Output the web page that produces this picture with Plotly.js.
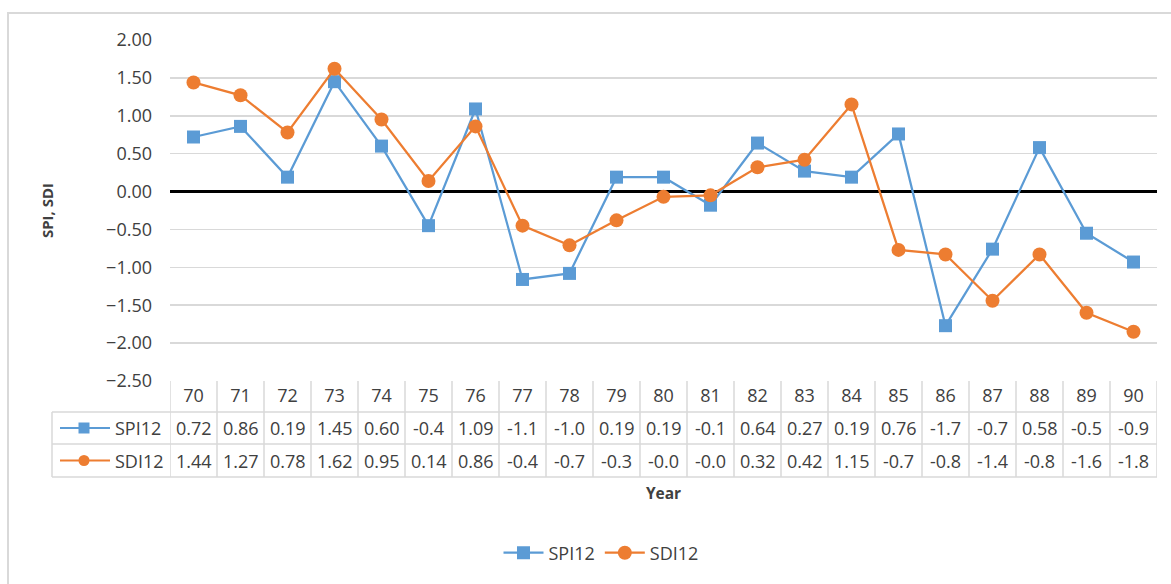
<!DOCTYPE html>
<html>
<head>
<meta charset="utf-8">
<script src="https://cdn.plot.ly/plotly-3.0.1.min.js"></script>
<style>html,body{margin:0;padding:0;background:#fff;}#chart{width:1171px;height:584px;}</style>
</head>
<body>
<div id="chart"></div>
<script>
// ---- data ----
const years = ['70','71','72','73','74','75','76','77','78','79','80','81','82','83','84','85','86','87','88','89','90'];
const spi12 = [0.72,0.86,0.19,1.45,0.60,-0.45,1.09,-1.16,-1.08,0.19,0.19,-0.18,0.64,0.27,0.19,0.76,-1.77,-0.76,0.58,-0.55,-0.93];
const sdi12 = [1.44,1.27,0.78,1.62,0.95,0.14,0.86,-0.45,-0.71,-0.38,-0.07,-0.05,0.32,0.42,1.15,-0.77,-0.83,-1.44,-0.83,-1.60,-1.85];
const seriesNames = ['SPI12','SDI12'];
const yTicks = [-2.5,-2,-1.5,-1,-0.5,0,0.5,1,1.5,2];

// ---- style ----
const W = 1171, H = 584;
const M = {l:170, r:14, t:40, b:203};
const PW = W - M.l - M.r, PH = H - M.t - M.b;
const px2x = px => (px - M.l) / PW;
const px2y = py => (H - M.b - py) / PH;
const BLUE = '#5B9BD5', ORANGE = '#ED7D31', TXT = '#404040', GRID = '#d9d9d9';
const FONT = 'Open Sans, Noto Sans, sans-serif';
const FS = 18;

const fmt = v => v.toFixed(2).slice(0,4);

const traces = [
  {x: years, y: spi12, name: seriesNames[0], type: 'scatter', mode: 'lines+markers',
   line: {color: BLUE, width: 2.25}, marker: {symbol: 'square', size: 13, color: BLUE}},
  {x: years, y: sdi12, name: seriesNames[1], type: 'scatter', mode: 'lines+markers',
   line: {color: ORANGE, width: 2.25}, marker: {symbol: 'circle', size: 14, color: ORANGE}}
];

const shapes = [];
const annotations = [];
const lineStyle = {color: GRID, width: 1.5};
const rowTop = 381, r1 = 412, r2 = 444, r3 = 477, tblLeft = 52;

// outer chart border
shapes.push({type:'rect', xref:'paper', yref:'paper', x0:px2x(8), x1:px2x(1200), y0:px2y(13), y1:px2y(620),
  line:{color:'#d9d9d9', width:2}, layer:'below'});

// table vertical lines
for (let i = 0; i <= years.length; i++) {
  shapes.push({type:'line', xref:'x', yref:'paper', x0:i-0.5, x1:i-0.5, y0:px2y(rowTop), y1:px2y(r3), line:lineStyle});
}
shapes.push({type:'line', xref:'paper', yref:'paper', x0:px2x(tblLeft), x1:px2x(tblLeft), y0:px2y(r1), y1:px2y(r3), line:lineStyle});
[r1, r2, r3].forEach(r => shapes.push({type:'line', xref:'paper', yref:'paper', x0:px2x(tblLeft), x1:1, y0:px2y(r), y1:px2y(r), line:lineStyle}));

// table legend keys + labels + values
const rows = [{vals: spi12, color: BLUE, sym: 'rect', cy: (r1+r2)/2, name: seriesNames[0]},
              {vals: sdi12, color: ORANGE, sym: 'circle', cy: (r2+r3)/2, name: seriesNames[1]}];
rows.forEach(r => {
  shapes.push({type:'line', xref:'paper', yref:'paper', x0:px2x(60), x1:px2x(110), y0:px2y(r.cy), y1:px2y(r.cy), line:{color:r.color, width:2}});
  shapes.push({type:r.sym, xref:'paper', yref:'paper', xsizemode:'pixel', ysizemode:'pixel',
    xanchor:px2x(84), yanchor:px2y(r.cy), x0:-5.5, x1:5.5, y0:-5.5, y1:5.5,
    fillcolor:r.color, line:{color:r.color, width:0}});
  annotations.push({xref:'paper', yref:'paper', x:px2x(113), y:px2y(r.cy), xanchor:'left', yanchor:'middle',
    text:r.name, showarrow:false, font:{family:FONT, size:FS, color:TXT}});
  // category axis: annotation x given as category index
  r.vals.forEach((v, i) => annotations.push({xref:'x', yref:'paper', x:years.indexOf(years[i]), y:px2y(r.cy),
    xanchor:'center', yanchor:'middle', text:fmt(v), showarrow:false, font:{family:FONT, size:FS, color:TXT}}));
});

const layout = {
  width: W, height: H,
  margin: M,
  paper_bgcolor: '#fff', plot_bgcolor: '#fff',
  font: {family: FONT, size: FS, color: TXT},
  showlegend: true,
  legend: {orientation:'h', x:px2x(601), xanchor:'center', y:px2y(553), yanchor:'middle',
    font:{family:FONT, size:FS, color:TXT}, itemwidth:40, traceorder:'normal'},
  xaxis: {type:'category', categoryorder:'array', categoryarray: years, range:[-0.5, years.length-0.5],
    showgrid:false, zeroline:false, showline:false, ticks:'', ticklabelstandoff:2,
    tickfont:{family:FONT, size:FS, color:TXT}, fixedrange:true,
    title:{text:'<b>Year</b>', font:{family:FONT, size:15.5, color:TXT}, standoff:82}},
  yaxis: {range:[-2.5, 2.0], tickvals: yTicks, tickformat:'.2f', showgrid:true, gridcolor:GRID, gridwidth:1.5,
    zeroline:true, zerolinecolor:'#000', zerolinewidth:3, showline:false, ticks:'', ticklabelstandoff:17,
    tickfont:{family:FONT, size:FS, color:TXT}, fixedrange:true,
    title:{text:'<b>SPI, SDI</b>', font:{family:FONT, size:15, color:TXT}, standoff:48}},
  shapes: shapes,
  annotations: annotations
};

Plotly.newPlot('chart', traces, layout, {displayModeBar:false, staticPlot:true});
</script>
</body>
</html>
